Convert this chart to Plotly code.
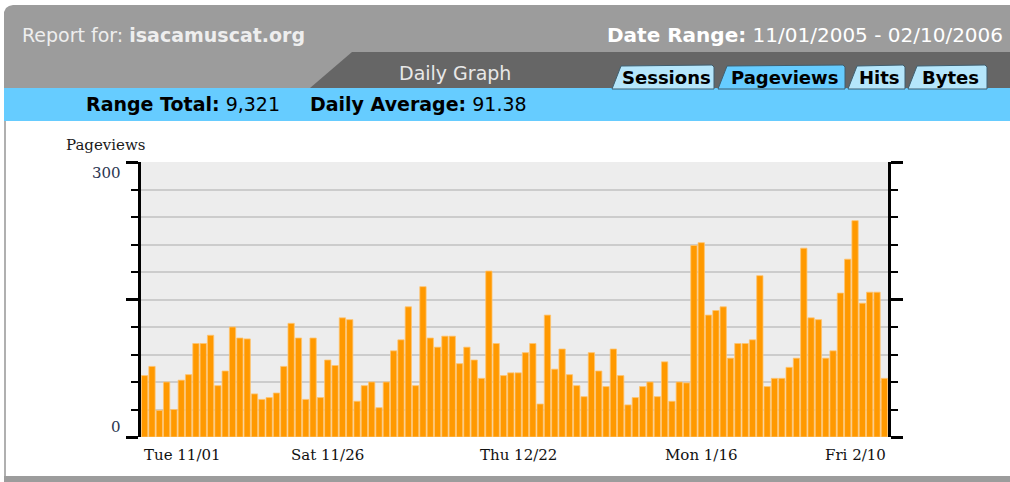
import plotly.graph_objects as go
import pandas as pd

# ---------------- data ----------------
dates = pd.date_range("2005-11-01", "2006-02-10", freq="D")
categories = [d.strftime("%Y-%m-%d") for d in dates]

pageviews = [
    67, 77, 29, 60, 30, 62, 68, 102, 102, 111, 56, 72, 120, 108, 107, 47, 41,
    43, 48, 77, 124, 108, 41, 108, 43, 84, 78, 130, 128, 39, 56, 60, 32, 60,
    94, 106, 142, 56, 164, 108, 98, 110, 110, 80, 98, 84, 64, 181, 102, 67, 70,
    70, 92, 102, 36, 133, 74, 96, 68, 56, 44, 92, 72, 55, 96, 67, 35, 43,
    55, 60, 44, 82, 39, 60, 59, 209, 212, 133, 138, 142, 86, 102, 102, 106, 176,
    55, 64, 64, 76, 86, 206, 130, 128, 86, 94, 157, 194, 236, 146, 158, 158, 64,
]

tick_dates = ["2005-11-01", "2005-11-26", "2005-12-22", "2006-01-16", "2006-02-10"]
tick_labels = ["Tue 11/01", "Sat 11/26", "Thu 12/22", "Mon 1/16", "Fri 2/10"]
y_label_values = [0, 300]
tab_names = ["Sessions", "Pageviews", "Hits", "Bytes"]

site = "isacamuscat.org"
date_range_text = "11/01/2005 - 02/10/2006"
range_total = "9,321"
daily_average = "91.38"

# ---------------- geometry (pixels) ----------------
W, H = 1010, 482
L, R, T, B = 141, 888, 162, 437


def px(x):
    return (x - L) / (R - L)


def py(y):
    return (B - y) / (B - T)


SANS = "DejaVu Sans"
SERIF = "DejaVu Serif"

fig = go.Figure()
fig.add_trace(go.Bar(
    x=categories, y=pageviews,
    marker=dict(color="#ff9900", line=dict(color="#ffc46e", width=0.8)),
    hoverinfo="x+y",
))

shapes = []


def poly(points, fill, line_color=None, line_width=0):
    path = "M " + " L ".join(f"{px(x)},{py(y)}" for x, y in points) + " Z"
    shapes.append(dict(type="path", xref="paper", yref="paper", path=path,
                       fillcolor=fill,
                       line=dict(color=line_color or fill, width=line_width),
                       layer="above"))


# outer light-gray header with rounded top-left corner
poly([(4, 88), (4, 12), (6, 8), (9, 6), (13, 5), (1012, 5), (1012, 88)], "#9c9c9c")
# dark trapezoid behind tabs
poly([(310, 88), (352, 52), (1012, 52), (1012, 88)], "#666666")
# blue stats bar
poly([(4, 88), (1012, 88), (1012, 121), (4, 121)], "#66ccff")
# tabs
tabs = [(612, 714, "#b5e6fb"), (718, 845, "#66ccff"), (848, 905, "#b5e6fb"), (908, 987, "#b5e6fb")]
for x0, x1, col in tabs:
    poly([(x0, 89), (x0 + 9, 66), (x1 - 2, 65), (x1, 67), (x1, 89)], col, "#3f5f70", 1)
# content left border and bottom bar
poly([(4, 121), (6, 121), (6, 476), (4, 476)], "#b0b0b0")
poly([(4, 476), (1012, 476), (1012, 484), (4, 484)], "#9c9c9c")

ann = []


def text(x, y, s, size=15, color="white", family=SANS, xanchor="left", xref="paper", xshift=0):
    ann.append(dict(x=x if xref != "paper" else px(x), y=py(y), xref=xref, yref="paper",
                    text=s, showarrow=False, xanchor=xanchor, yanchor="middle",
                    xshift=xshift,
                    font=dict(family=family, size=size, color=color)))


text(20, 35, f"Report for: <b>{site}</b>", 19, "#eeeeee")
text(605, 35, f"<b>Date Range:</b> {date_range_text}", 20, "#ffffff")
text(455, 73, "Daily Graph", 19, "#e8e8e8", xanchor="center")
for (x0, x1, _), name in zip(tabs, tab_names):
    text((x0 + 6 + x1) / 2, 77, f"<b>{name}</b>", 18, "#000000", xanchor="center")
text(84, 104, f"<b>Range Total:</b> {range_total}", 19, "#000000")
text(308, 104, f"<b>Daily Average:</b> {daily_average}", 19, "#000000")

# chart texts
text(64, 145, "Pageviews", 15, "#1a1a1a", SERIF)
text(123, 173, str(y_label_values[1]), 15, "#2b3550", SERIF, xanchor="right")
text(123, 427, str(y_label_values[0]), 15, "#2b3550", SERIF, xanchor="right")
for i, (d, lab) in enumerate(zip(tick_dates, tick_labels)):
    idx = categories.index(d)
    if i == 0:
        xa, xs = "left", -3
    elif i == len(tick_dates) - 1:
        xa, xs = "right", 4
    else:
        xa, xs = "center", 0
    ann.append(dict(x=idx, y=py(455), xref="x", yref="paper", text=lab, showarrow=False,
                    xanchor=xa, yanchor="middle", xshift=xs,
                    font=dict(family=SERIF, size=15, color="#111111")))

fig.update_layout(
    width=W, height=H,
    margin=dict(l=L, r=W - R, t=T, b=H - B, pad=0),
    paper_bgcolor="white",
    plot_bgcolor="#ededed",
    showlegend=False,
    bargap=0.14,
    shapes=shapes,
    annotations=ann,
    xaxis=dict(type="category", range=[-0.5, len(categories) - 0.5],
               showticklabels=False, ticks="", showgrid=False, zeroline=False,
               showline=False, fixedrange=True),
    yaxis=dict(range=[0, 300], tickvals=[0, 150, 300], ticks="outside", ticklen=12,
               tickwidth=3, tickcolor="black", showline=True, linewidth=3,
               linecolor="black", mirror="ticks", showticklabels=False,
               showgrid=True, gridcolor="#cccccc", gridwidth=2, zeroline=False,
               minor=dict(dtick=30, tick0=0, ticks="outside", ticklen=7, tickwidth=2,
                          tickcolor="black", showgrid=True, gridcolor="#cccccc",
                          gridwidth=2),
               fixedrange=True),
)

fig.write_html("out.html", config={"displayModeBar": False},
               post_script="document.body.style.margin='0';")
